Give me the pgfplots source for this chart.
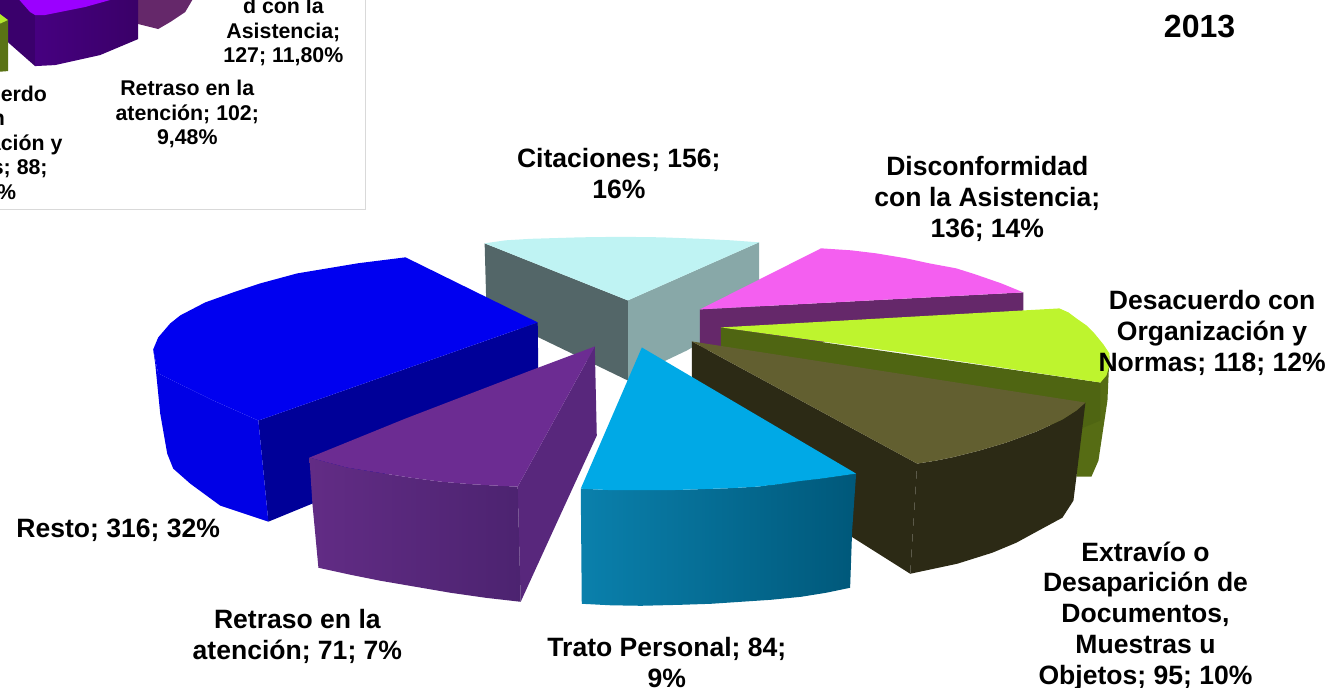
\documentclass[border=0pt]{standalone}
\usepackage{pgfplots}
\pgfplotsset{compat=1.18}
\usepackage{fontspec}
\setmainfont{Liberation Sans}
\definecolor{citTop}{HTML}{BFF3F3}
\definecolor{citL}{HTML}{536668}
\definecolor{citR}{HTML}{88A8A8}
\definecolor{pinkTop}{HTML}{F45FF0}
\definecolor{pinkSide}{HTML}{65286A}
\definecolor{limeTop}{HTML}{BEF42E}
\definecolor{limeSide}{HTML}{4F6512}
\definecolor{limeOut}{HTML}{566C14}
\definecolor{oliveTop}{HTML}{625F30}
\definecolor{oliveSide}{HTML}{2C2A15}
\definecolor{cyanTop}{HTML}{00A9E6}
\definecolor{cyanA}{HTML}{0A80AC}
\definecolor{cyanB}{HTML}{00587A}
\definecolor{purTop}{HTML}{6C2C92}
\definecolor{purA}{HTML}{622C85}
\definecolor{purB}{HTML}{4C2370}
\definecolor{purR}{HTML}{58277C}
\definecolor{bluTop}{HTML}{0000F0}
\definecolor{bluSide}{HTML}{0000E6}
\definecolor{bluR}{HTML}{000098}
\definecolor{vioTop}{HTML}{9B00FF}
\definecolor{vioSide}{HTML}{3A006C}
\definecolor{vioA}{HTML}{460080}
\definecolor{vioB}{HTML}{3A0068}
\definecolor{frameC}{HTML}{D9D9D9}
\newcommand{\lblA}{\fontsize{26.5}{30.8}\bfseries\selectfont}
\newcommand{\lblB}{\fontsize{21.3}{24.5}\bfseries\selectfont}
\newcommand{\lblC}{\fontsize{32}{36}\bfseries\selectfont}
\begin{document}
\begin{tikzpicture}
\begin{axis}[
  width=1329pt,height=687pt,scale only axis,
  xmin=0,xmax=1329,ymin=0,ymax=687,y dir=reverse,
  hide axis,clip=true,
  every axis plot/.append style={draw=none,line width=0pt},
]
% inset chart fragments
\addplot[draw=frameC,line width=1pt] coordinates {(-5,209) (365,209) (365,-5)};
\addplot[fill=pinkSide] coordinates {(138,-5) (195,-5) (185,12) (170,22) (158,29) (138,24)} -- cycle;
\addplot[fill=vioSide] coordinates {(-5,-5) (35,-5) (35,66) (10,44) (-5,30)} -- cycle;
\addplot[left color=vioA,right color=vioB] coordinates {(35,-5) (138,-5) (138,39) (100,55) (55,65) (35,66)} -- cycle;
\addplot[fill=vioTop] coordinates {(15,-5) (30,12) (35,15) (45,15) (85,7) (110,0) (118,-5)} -- cycle;
\addplot[fill=limeSide!70!limeTop!80!black] coordinates {(-5,26) (8,20) (8,71) (-5,72)} -- cycle;
\addplot[fill=limeTop!95!black] coordinates {(-5,11) (0,14) (8,20) (-5,26)} -- cycle;
% Citaciones
\addplot[fill=citR] coordinates {(627,300) (758,242) (758,308) (686,350) (665,360) (627,380)} -- cycle;
\addplot[fill=citL] coordinates {(484,243) (627,300) (627,380) (538,337) (486,316)} -- cycle;
\addplot[fill=citTop] coordinates {(484,243) (505,240) (530,238.5) (580,237) (620,236.5) (660,237) (700,238.5) (730,240) (758,242) (627,300)} -- cycle;
% Disconformidad
\addplot[fill=pinkSide] coordinates {(699,309) (1022,292) (1022,312) (800,345) (699,350)} -- cycle;
\addplot[fill=pinkTop] coordinates {(699,309) (820,248) (850,250) (875,253) (905,258) (928,263) (955,268) (974,274) (1000,283) (1022,292)} -- cycle;
% Desacuerdo
\addplot[fill=limeOut] coordinates {(1099,382) (1108,355) (1106,400) (1097,460) (1090,476) (1075,476) (1075,420) (1099,382)} -- cycle;
\addplot[fill=limeSide] coordinates {(720,327) (1099,382) (1099,420) (1075,430) (720,350)} -- cycle;
\addplot[fill=limeTop] coordinates {(720,327) (1058,308) (1067,312) (1075,318) (1085,325) (1093,333) (1102,344) (1108,353) (1108,365) (1105,375) (1099,382) (900,352)} -- cycle;
% Extravio
\addplot[fill=oliveSide] coordinates {(691,341) (916,463) (909,573) (852,537) (691,440)} -- cycle;
\addplot[fill=oliveSide] coordinates {(916,463) (935,460) (952,456.5) (978,450) (1005,442) (1035,431) (1061,419) (1075,410) (1084,402) (1080,435) (1075,476) (1072,500) (1061,517) (1037,530) (1015,542) (991,552) (956,563) (909,573)} -- cycle;
\addplot[fill=oliveTop] coordinates {(691,341) (1084,402) (1075,410) (1061,419) (1035,431) (1005,442) (978,450) (952,456.5) (935,460) (916,463)} -- cycle;
% Trato Personal
\addplot[left color=cyanA,right color=cyanB] coordinates {(580,488) (610,489.5) (640,489.5) (670,489.5) (700,488.5) (730,487.5) (756,486) (775,484) (798,480) (820,478) (855,473) (851,530) (849,587) (825,592) (800,596) (770,599) (740,601) (710,603) (680,604) (640,605) (610,604.5) (581,603)} -- cycle;
\addplot[fill=cyanTop] coordinates {(641,347) (855,473) (820,478) (798,480.5) (775,484) (756,486) (730,487.5) (700,488.5) (670,489.5) (640,489.5) (610,489.5) (580,488)} -- cycle;
% Resto
\addplot[fill=bluR] coordinates {(258,420) (537,322) (538,410) (268,521)} -- cycle;
\addplot[fill=bluSide] coordinates {(153,349) (158,373) (213,400) (258,420) (268,521) (220,505) (190,483) (173,468) (167,453) (160,413) (155,363)} -- cycle;
\addplot[fill=bluTop] coordinates {(405,257) (537,322) (258,420) (213,400) (158,373) (153,349) (158,337) (170,323) (180,315) (205,302) (233,292) (260,283) (297,273) (357,263)} -- cycle;
% Retraso
\addplot[fill=purR] coordinates {(517,486) (594,346) (596,435) (557,520) (520,601)} -- cycle;
\addplot[left color=purA,right color=purB] coordinates {(309,457) (328,462) (347,467) (378,472) (410,477) (440,481) (470,483.5) (495,485) (517,486) (520,601) (485,597) (450,592) (415,586) (380,580) (350,574) (318,567) (312,503)} -- cycle;
\addplot[fill=purTop] coordinates {(594,346) (530,370) (405,418) (309,457) (328,462) (347,467) (378,472) (410,477) (440,481) (470,483.5) (495,485) (517,486)} -- cycle;
% labels
\node[align=center,font=\lblC] at (axis cs:1198,26) {2013};
\node[align=center,font=\lblA] at (axis cs:618,173.5) {Citaciones; 156;\\16\%};
\node[align=center,font=\lblA] at (axis cs:986,199) {Disconformidad\\con la Asistencia;\\136; 14\%};
\node[align=center,font=\lblA] at (axis cs:1210.5,332.5) {Desacuerdo con\\Organización y\\Normas; 118; 12\%};
\node[align=center,font=\lblA] at (axis cs:1144,615) {Extravío o\\Desaparición de\\Documentos,\\Muestras u\\Objetos; 95; 10\%};
\node[align=center,font=\lblA] at (axis cs:666,662) {Trato Personal; 84;\\9\%};
\node[align=center,font=\lblA] at (axis cs:297,636) {Retraso en la\\atención; 71; 7\%};
\node[align=center,font=\lblA] at (axis cs:118,530) {Resto; 316; 32\%};
\node[align=center,font=\lblB] at (axis cs:283,19.75) {Disconformida\\d con la\\Asistencia;\\127; 11,80\%};
\node[align=center,font=\lblB] at (axis cs:187,114) {Retraso en la\\atención; 102;\\9,48\%};
\node[align=center,font=\lblB] at (axis cs:-14,144) {Desacuerdo\\con\\Organización y\\Normas; 88;\\8,18\%};
\end{axis}
\end{tikzpicture}
\end{document}
